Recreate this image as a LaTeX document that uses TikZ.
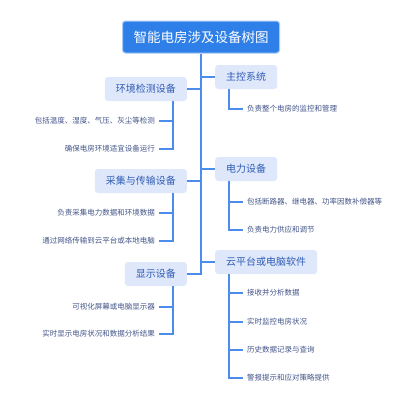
\documentclass[tikz,border=0pt]{standalone}
\usepackage{fontspec}
\setmainfont{Noto Sans CJK SC}
\usetikzlibrary{calc,positioning}
\definecolor{RootBlue}{HTML}{2F7FE8}
\definecolor{RootEdge}{HTML}{A8CAF6}
\definecolor{BranchFill}{HTML}{DFE8FB}
\definecolor{BranchInk}{HTML}{2F5CB5}
\definecolor{LeafInk}{HTML}{44558A}
\definecolor{WireBlue}{HTML}{4C8DEB}
\tikzset{
  rootbox/.style={
    fill=RootBlue,
    draw=RootEdge,
    line width=1pt,
    rounded corners=3pt,
    text=white,
    font=\fontsize{13.5}{16}\selectfont,
    minimum height=32pt,
    inner xsep=11pt,
    inner ysep=0pt
  },
  branch/.style={
    fill=BranchFill,
    rounded corners=3pt,
    text=BranchInk,
    font=\fontsize{10}{12}\selectfont,
    minimum height=24pt,
    inner xsep=11pt,
    inner ysep=0pt
  },
  leaf/.style={text=LeafInk, font=\fontsize{7.5}{9}\selectfont, inner sep=0pt},
  wire/.style={draw=WireBlue, line width=1.1pt}
}

\begin{document}
\begin{tikzpicture}[x=1pt,y=-1pt]
  \useasboundingbox[fill=white] (0,0) rectangle (400,407);

  % root
  \node[rootbox] (root) at (201,37) {智能电房涉及设备树图};

  % left branches
  \node[branch, anchor=east] (env) at (187,89) {环境检测设备};
  \node[branch, anchor=east] (coll) at (187,181) {采集与传输设备};
  \node[branch, anchor=east] (disp) at (187,274) {显示设备};

  % right branches
  \node[branch, anchor=west] (ctrl) at (215,77) {主控系统};
  \node[branch, anchor=west] (power) at (215,169) {电力设备};
  \node[branch, anchor=west] (cloud) at (215,262) {云平台或电脑软件};

  % left leaves
  \node[leaf, anchor=east] (envA) at (155,121) {包括温度、湿度、气压、灰尘等检测};
  \node[leaf, anchor=east] (envB) at (155,149) {确保电房环境适宜设备运行};
  \node[leaf, anchor=east] (collA) at (155,213) {负责采集电力数据和环境数据};
  \node[leaf, anchor=east] (collB) at (155,241) {通过网络传输到云平台或本地电脑};
  \node[leaf, anchor=east] (dispA) at (155,307) {可视化屏幕或电脑显示器};
  \node[leaf, anchor=east] (dispB) at (155,334) {实时显示电房状况和数据分析结果};

  % right leaves
  \node[leaf, anchor=west] (ctrlA) at (247,109) {负责整个电房的监控和管理};
  \node[leaf, anchor=west] (powerA) at (247,202) {包括断路器、继电器、功率因数补偿器等};
  \node[leaf, anchor=west] (powerB) at (247,230) {负责电力供应和调节};
  \node[leaf, anchor=west] (cloudA) at (247,293) {接收并分析数据};
  \node[leaf, anchor=west] (cloudB) at (247,322) {实时监控电房状况};
  \node[leaf, anchor=west] (cloudC) at (247,350) {历史数据记录与查询};
  \node[leaf, anchor=west] (cloudD) at (247,378) {警报提示和应对策略提供};

  % trunk
  \draw[wire] (root.south) -- (root.south |- disp.east) -- (disp.east);
  \foreach \b in {env,coll}
    \draw[wire] (root.south |- \b.east) -- (\b.east);
  \foreach \b in {ctrl,power,cloud}
    \draw[wire] (root.south |- \b.west) -- (\b.west);

  % leaf wires
  \foreach \b/\l in {env/envA,env/envB,coll/collA,coll/collB,disp/dispA,disp/dispB}
    \draw[wire] ([xshift=-14pt]\b.south east) |- ([xshift=4pt]\l.east);
  \foreach \b/\l in {ctrl/ctrlA,power/powerA,power/powerB,cloud/cloudA,cloud/cloudB,cloud/cloudC,cloud/cloudD}
    \draw[wire] ([xshift=14pt]\b.south west) |- ([xshift=-4pt]\l.west);
\end{tikzpicture}
\end{document}
